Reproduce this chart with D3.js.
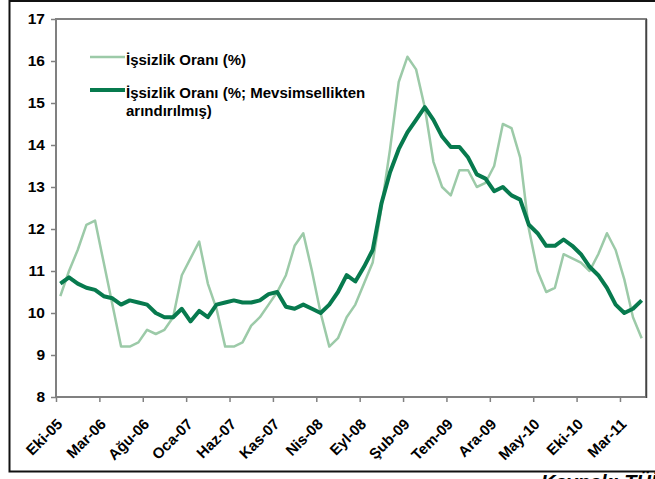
<!DOCTYPE html>
<html>
<head>
<meta charset="utf-8">
<script src="https://cdnjs.cloudflare.com/ajax/libs/d3/7.8.5/d3.min.js"></script>
<style>
body { margin: 0; background: #fff; }
svg text { font-family: "Liberation Sans", Arial, sans-serif; font-weight: bold; fill: #000; }
</style>
</head>
<body>
<svg id="chart" width="655" height="479"></svg>
<script>
// x axis labels, one every 5 months (Eki-05 .. Mar-11)
var tickLabels = ['Eki-05', 'Mar-06', 'Ağu-06', 'Oca-07', 'Haz-07', 'Kas-07', 'Nis-08',
	'Eyl-08', 'Şub-09', 'Tem-09', 'Ara-09', 'May-10', 'Eki-10', 'Mar-11'];

// monthly, Eki-05 .. May-11 (68 months)
var issizlik = [
	10.4, 11.0, 11.5, 12.1, 12.2, 11.2, 10.2, 9.2, 9.2, 9.3,
	9.6, 9.5, 9.6, 9.9, 10.9, 11.3, 11.7, 10.7, 10.1, 9.2,
	9.2, 9.3, 9.7, 9.9, 10.2, 10.5, 10.9, 11.6, 11.9, 11.0,
	10.0, 9.2, 9.4, 9.9, 10.2, 10.7, 11.2, 12.5, 13.9, 15.5,
	16.1, 15.8, 14.9, 13.6, 13.0, 12.8, 13.4, 13.4, 13.0, 13.1,
	13.5, 14.5, 14.4, 13.7, 12.0, 11.0, 10.5, 10.6, 11.4, 11.3,
	11.2, 11.0, 11.4, 11.9, 11.5, 10.8, 9.9, 9.4
];

var issizlikMA = [
	10.7, 10.85, 10.7, 10.6, 10.55, 10.4, 10.35, 10.2, 10.3, 10.25,
	10.2, 10.0, 9.9, 9.9, 10.1, 9.8, 10.05, 9.9, 10.2, 10.25,
	10.3, 10.25, 10.25, 10.3, 10.45, 10.5, 10.15, 10.1, 10.2, 10.1,
	10.0, 10.2, 10.5, 10.9, 10.75, 11.1, 11.5, 12.6, 13.35, 13.9,
	14.3, 14.6, 14.9, 14.6, 14.2, 13.95, 13.95, 13.7, 13.3, 13.2,
	12.9, 13.0, 12.8, 12.7, 12.1, 11.9, 11.6, 11.6, 11.75, 11.6,
	11.4, 11.1, 10.9, 10.6, 10.2, 10.0, 10.1, 10.3
];

var yTicks = [8, 9, 10, 11, 12, 13, 14, 15, 16, 17];

var seriesNames = ['İşsizlik Oranı (%)', 'İşsizlik Oranı (%; Mevsimsellikten', 'arındırılmış)'];

var lightGreen = '#9ccaa8';
var darkGreen = '#077a4e';

var svg = d3.select('#chart');

// plot area
var pLeft = 56, pRight = 646, pTop = 19, pBottom = 397;

// outer frame
svg.append('path')
	.attr('d', 'M655,1 H9.5 V471.5 H655')
	.attr('fill', 'none')
	.attr('stroke', '#111')
	.attr('stroke-width', 2);

var n = issizlik.length;
var xb = d3.scaleLinear().domain([0, n]).range([pLeft, pRight]);
var y = d3.scaleLinear().domain([8, 17]).range([pBottom, pTop]);

// plot border
svg.append('rect')
	.attr('x', pLeft).attr('y', pTop)
	.attr('width', pRight - pLeft).attr('height', pBottom - pTop)
	.attr('fill', 'none')
	.attr('stroke', '#808080')
	.attr('stroke-width', 2);
svg.append('line')
	.attr('x1', pRight + 0.5).attr('x2', pRight + 0.5)
	.attr('y1', pTop).attr('y2', pBottom + 1)
	.attr('stroke', '#444').attr('stroke-width', 1.5);

// y axis
var yAxis = svg.append('g')
	.attr('transform', 'translate(' + pLeft + ',0)')
	.call(d3.axisLeft(y).tickValues(yTicks).tickSize(5).tickPadding(6).tickFormat(d3.format('d')));
yAxis.select('.domain').remove();
yAxis.selectAll('line').attr('stroke', '#808080').attr('stroke-width', 1.5);
yAxis.selectAll('text').style('font-size', '15.5px').attr('fill', '#000');

// x axis
var xTickVals = tickLabels.map(function (d, i) { return i * 5; });
var xAxis = svg.append('g')
	.attr('transform', 'translate(0,' + pBottom + ')')
	.call(d3.axisBottom(xb).tickValues(xTickVals).tickSize(5)
		.tickFormat(function (d) { return tickLabels[d / 5]; }));
xAxis.select('.domain').remove();
xAxis.selectAll('line').attr('stroke', '#808080').attr('stroke-width', 1.5);
xAxis.selectAll('text')
	.style('font-size', '15px')
	.attr('fill', '#000')
	.attr('text-anchor', 'end')
	.attr('dy', null)
	.attr('y', null)
	.attr('transform', 'translate(7,28) rotate(-45)');

// lines
var line = d3.line()
	.x(function (d, i) { return xb(i + 0.5); })
	.y(function (d) { return y(d); });

svg.append('path')
	.datum(issizlik)
	.attr('d', line)
	.attr('fill', 'none')
	.attr('stroke', lightGreen)
	.attr('stroke-width', 2.5)
	.attr('stroke-linejoin', 'round');

svg.append('path')
	.datum(issizlikMA)
	.attr('d', line)
	.attr('fill', 'none')
	.attr('stroke', darkGreen)
	.attr('stroke-width', 4)
	.attr('stroke-linejoin', 'round');

// legend
var legend = svg.append('g');
legend.append('line')
	.attr('x1', 90).attr('x2', 125).attr('y1', 57).attr('y2', 57)
	.attr('stroke', lightGreen).attr('stroke-width', 2.5);
legend.append('line')
	.attr('x1', 90).attr('x2', 125).attr('y1', 90).attr('y2', 90)
	.attr('stroke', darkGreen).attr('stroke-width', 4);
legend.append('text').attr('x', 126).attr('y', 64.5).style('font-size', '15px').text(seriesNames[0]);
legend.append('text').attr('x', 126).attr('y', 98).style('font-size', '15px').text(seriesNames[1]);
legend.append('text').attr('x', 126).attr('y', 115.5).style('font-size', '15px').text(seriesNames[2]);

// source, cut by the bottom edge
svg.append('text')
	.attr('x', 541).attr('y', 489)
	.style('font-size', '20px')
	.style('font-style', 'italic')
	.text('Kaynak: TÜİK');
</script>
</body>
</html>
